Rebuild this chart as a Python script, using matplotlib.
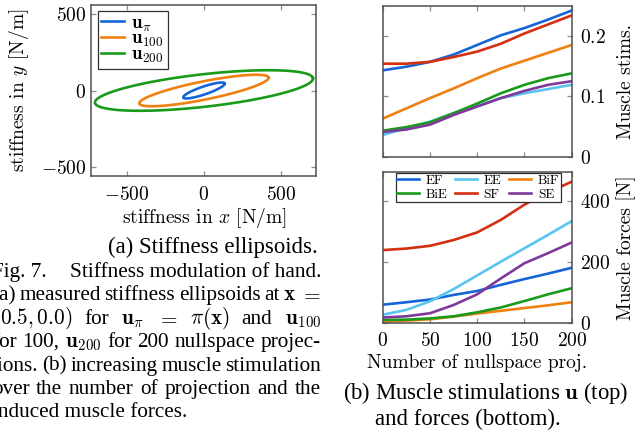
import numpy as np
import matplotlib
matplotlib.use('Agg')
import matplotlib.pyplot as plt
from matplotlib.ticker import FuncFormatter

plt.rcParams['mathtext.fontset'] = 'cm'
plt.rcParams['font.family'] = ['Liberation Serif', 'DejaVu Serif']

W, H = 636, 433

# --- (a) stiffness ellipsoids: semi axes [N/m], tilt [deg]
ell_labels = [r'$\mathbf{u}_\pi$', r'$\mathbf{u}_{100}$', r'$\mathbf{u}_{200}$']
ell_major = [142, 428, 712]
ell_minor = [26, 60, 107]
ell_angle = [19, 11.5, 6.5]

# --- (b) stimulations and forces over number of nullspace projections
n_proj = [0, 25, 50, 75, 100, 125, 150, 175, 200]
muscles = ['EF', 'EE', 'BiF', 'BiE', 'SF', 'SE']

stim_EF = [0.143, 0.149, 0.157, 0.169, 0.185, 0.201, 0.213, 0.227, 0.242]
stim_EE = [0.036, 0.047, 0.058, 0.072, 0.084, 0.097, 0.105, 0.112, 0.119]
stim_BiF = [0.063, 0.080, 0.097, 0.113, 0.130, 0.146, 0.159, 0.172, 0.185]
stim_BiE = [0.043, 0.049, 0.057, 0.072, 0.088, 0.105, 0.119, 0.130, 0.138]
stim_SF = [0.154, 0.154, 0.157, 0.165, 0.174, 0.187, 0.204, 0.219, 0.234]
stim_SE = [0.041, 0.045, 0.053, 0.069, 0.083, 0.097, 0.109, 0.119, 0.125]

force_EF = [59, 67, 76, 91, 104, 124, 143, 161, 180]
force_EE = [26, 42, 70, 110, 155, 200, 244, 288, 333]
force_BiF = [3, 7, 11, 20, 30, 39, 48, 57, 67]
force_BiE = [9, 10, 14, 21, 34, 50, 71, 93, 113]
force_SF = [238, 243, 252, 271, 296, 337, 387, 428, 462]
force_SE = [17, 21, 31, 58, 93, 145, 195, 228, 263]

colors = {'EF': '#1565d8', 'EE': '#5ac4f0', 'BiF': '#f08010',
          'BiE': '#1a9a1a', 'SF': '#d42f10', 'SE': '#7e3a9a'}
ell_colors = [colors['EF'], colors['BiF'], colors['BiE']]

stims = dict(zip(muscles, [stim_EF, stim_EE, stim_BiF, stim_BiE, stim_SF, stim_SE]))
forces = dict(zip(muscles, [force_EF, force_EE, force_BiF, force_BiE, force_SF, force_SE]))

fig = plt.figure(figsize=(W / 100, H / 100), dpi=100)


def box(x0, y0, x1, y1):
    # pixel box (top-left origin) -> figure fraction
    return [x0 / W, 1 - y1 / H, (x1 - x0) / W, (y1 - y0) / H]


TICKFS = 14
fmt = FuncFormatter(lambda v, p: f'${v:g}$')


def style(ax):
    for s in ax.spines.values():
        s.set_color('#505050')
        s.set_linewidth(1.1)
    ax.tick_params(direction='in', length=3.5, width=0.9, color='#8c8c8c',
                   top=True, right=True, labelsize=TICKFS)
    ax.xaxis.set_major_formatter(fmt)
    ax.yaxis.set_major_formatter(fmt)


# left panel
ax1 = fig.add_axes(box(91, 5, 316, 176))
t = np.linspace(0, 2 * np.pi, 300)
for lab, a, b, ang, c in zip(ell_labels, ell_major, ell_minor, ell_angle, ell_colors):
    th = np.deg2rad(ang)
    ex = a * np.cos(t) * np.cos(th) - b * np.sin(t) * np.sin(th)
    ey = a * np.cos(t) * np.sin(th) + b * np.sin(t) * np.cos(th)
    ax1.plot(ex, ey, color=c, lw=1.9, label=lab)
ax1.set_xlim(-733, 727)
ax1.set_ylim(-562, 562)
ax1.set_xticks([-500, 0, 500])
ax1.set_yticks([-500, 0, 500])
style(ax1)
ax1.tick_params(axis='y', pad=3.5)
ax1.tick_params(axis='x', pad=7)
ax1.set_xlabel(r'stiffness in $x$ [N/m]', fontfamily='cmr10', fontsize=TICKFS)
ax1.set_ylabel(r'stiffness in $y$ [N/m]', fontfamily='cmr10', fontsize=TICKFS)
ax1.xaxis.label.set_va('center')
ax1.yaxis.label.set_va('center')
ax1.xaxis.set_label_coords((204 - 91) / 225, -(218 - 176) / 171)
ax1.yaxis.set_label_coords(-(91 - 19) / 225, 0.5)
lg1 = ax1.legend(loc='upper left', bbox_to_anchor=((97.7 - 91) / 225, 1 - 6 / 171),
                 borderaxespad=0, fontsize=13.5, frameon=True, fancybox=False,
                 edgecolor='#303030', framealpha=1, handlelength=1.2,
                 handletextpad=0.4, labelspacing=-0.12, borderpad=0.2)
lg1.get_frame().set_linewidth(0.9)

# right top: stimulations
ax2 = fig.add_axes(box(382.7, 5.7, 571.7, 156.7))
for m in muscles:
    ax2.plot(n_proj, stims[m], color=colors[m], lw=1.9)
ax2.set_xlim(0, 200)
ax2.set_ylim(0, 0.25)
ax2.set_xticks([0, 50, 100, 150, 200])
ax2.set_yticks([0, 0.1, 0.2])
style(ax2)
ax2.tick_params(labelbottom=False, labelleft=False, labelright=True)
ax2.tick_params(axis='y', pad=6)
ax2.yaxis.set_label_position('right')
ax2.set_ylabel('Muscle stims.', fontfamily='cmr10', fontsize=TICKFS)
ax2.yaxis.label.set_va('center')
ax2.yaxis.set_label_coords(1 + (626 - 571.7) / 189, 0.5)

# right bottom: forces
ax3 = fig.add_axes(box(382.7, 172.3, 571.7, 322.7))
handles = {}
for m in muscles:
    handles[m], = ax3.plot(n_proj, forces[m], color=colors[m], lw=1.9, label=m)
ax3.set_xlim(0, 200)
ax3.set_ylim(0, 493)
ax3.set_xticks([0, 50, 100, 150, 200])
ax3.set_yticks([0, 200, 400])
style(ax3)
ax3.tick_params(labelleft=False, labelright=True)
ax3.tick_params(axis='y', pad=6)
ax3.tick_params(axis='x', pad=7)
ax3.yaxis.set_label_position('right')
ax3.set_ylabel('Muscle forces [N]', fontfamily='cmr10', fontsize=TICKFS)
ax3.yaxis.label.set_va('center')
ax3.yaxis.set_label_coords(1 + (626 - 571.7) / 189, 0.5)
ax3.set_xlabel('Number of nullspace proj.', fontfamily='cmr10', fontsize=TICKFS)
ax3.xaxis.label.set_va('center')
ax3.xaxis.set_label_coords(0.5, -(363 - 322.7) / 150.4)
order = ['EF', 'BiE', 'EE', 'SF', 'BiF', 'SE']
leg = ax3.legend([handles[m] for m in order], order, ncol=3, loc='upper left',
                 bbox_to_anchor=((396 - 382.7) / 189, 1 - 1 / 150.4),
                 borderaxespad=0, prop={'family': 'cmr10', 'size': 9.5},
                 frameon=True, fancybox=False, edgecolor='#303030', framealpha=1,
                 handlelength=1.65, handletextpad=0.5, columnspacing=0.6,
                 labelspacing=0.12, borderpad=0.1)
leg.get_frame().set_linewidth(0.9)

# captions
CAP = 15.3
SUB = 16.4


def put(x, y, s, size, ha='left'):
    return fig.text(x / W, 1 - y / H, s, fontsize=size, ha=ha, va='baseline')


def justify(words, y, x0, x1, size):
    ts = [put(0, y, w, size) for w in words]
    r = fig.canvas.get_renderer()
    ws = [tt.get_window_extent(r).width for tt in ts]
    gap = (x1 - x0 - sum(ws)) / (len(ws) - 1)
    x = x0
    for tt, w in zip(ts, ws):
        tt.set_x(x / W)
        x += w + gap


put(213, 253, '(a) Stiffness ellipsoids.', SUB, ha='center')
put(343, 399.3, r'(b) Muscle stimulations $\mathbf{u}$ (top)', SUB)
put(375, 425, 'and forces (bottom).', SUB)

X0, X1 = -8, 321
put(X0, 276.7, 'Fig. 7.', CAP)
put(X1, 276.7, 'Stiffness modulation of hand.', CAP, ha='right')
justify(['(a)', 'measured', 'stiffness', 'ellipsoids', 'at', r'$\mathbf{x}$', '$=$'],
        300, X0, X1, CAP)
justify([r'$(0.5,0.0)$', 'for', r'$\mathbf{u}_\pi$', '$=$', r'$\pi(\mathbf{x})$',
         'and', r'$\mathbf{u}_{100}$'], 324, X0, X1, CAP)
justify(['for', '100,', r'$\mathbf{u}_{200}$', 'for', '200', 'nullspace', 'projec-'],
        347, X0, X1, CAP)
justify(['tions.', '(b)', 'increasing', 'muscle', 'stimulation'], 370.7, X0, X1, CAP)
justify(['over', 'the', 'number', 'of', 'projection', 'and', 'the'], 394, X0, X1, CAP)
put(X0, 417, 'induced muscle forces.', CAP)

fig.savefig('out.png', dpi=100)
